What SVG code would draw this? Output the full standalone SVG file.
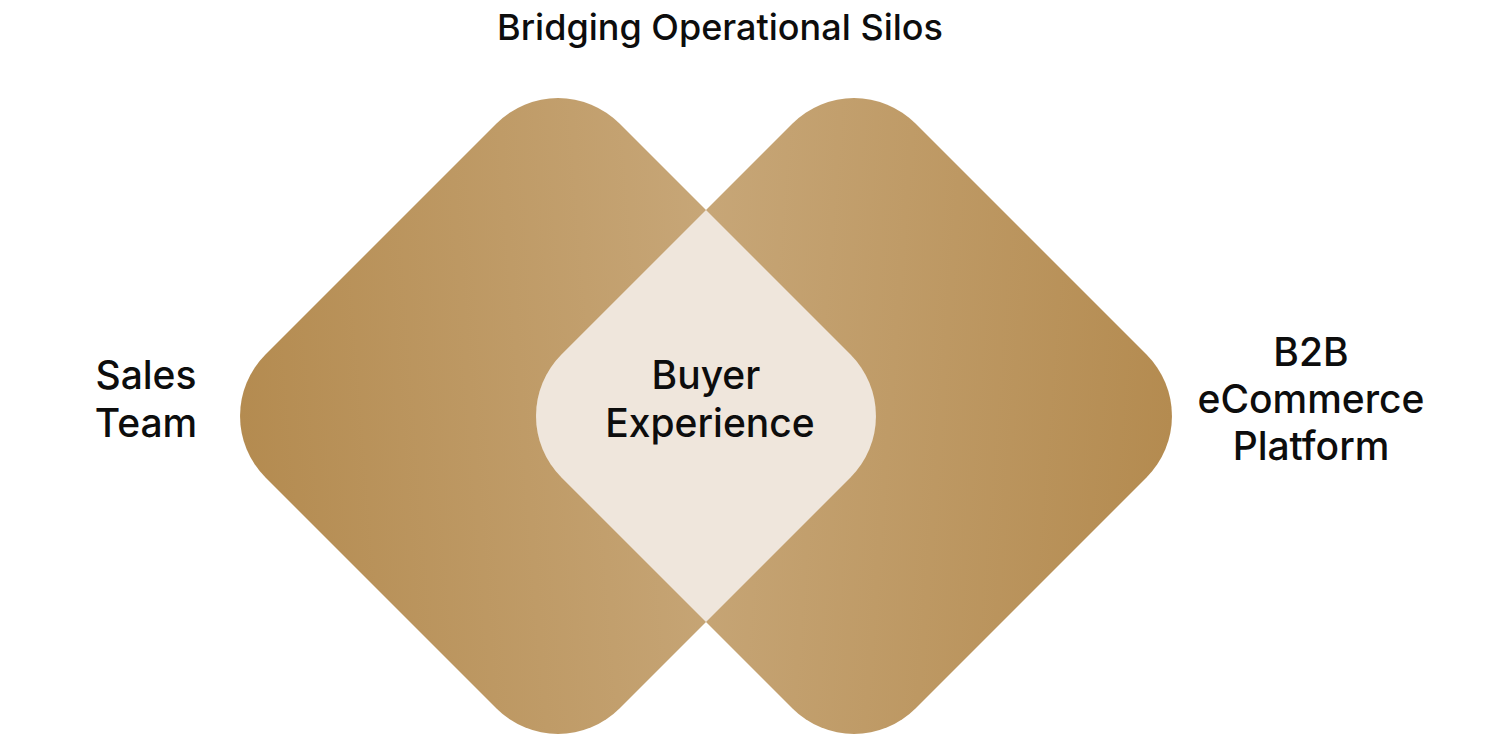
<svg xmlns="http://www.w3.org/2000/svg" width="1500" height="742" viewBox="0 0 1500 742">
<style>
.t{font-family:Inter,"Open Sans","Liberation Sans",sans-serif;fill:#0d0d0d;text-anchor:middle;font-weight:500}
.title{font-size:36px}
.lbl{font-size:39px}
</style>
<defs>
<linearGradient id="gl" gradientUnits="userSpaceOnUse" x1="242" y1="440" x2="876" y2="390">
<stop offset="0" stop-color="#b48b50"/>
<stop offset="1" stop-color="#cdaf84"/>
</linearGradient>
<linearGradient id="gr" gradientUnits="userSpaceOnUse" x1="536" y1="390" x2="1170" y2="440">
<stop offset="0" stop-color="#cdaf84"/>
<stop offset="1" stop-color="#b48b50"/>
</linearGradient>
<path id="dl" d="M619.5 123.5 L850.5 354.5 A87 87 0 0 1 850.5 477.5 L619.5 708.5 A87 87 0 0 1 496.5 708.5 L265.5 477.5 A87 87 0 0 1 265.5 354.5 L496.5 123.5 A87 87 0 0 1 619.5 123.5 Z"/>
<path id="dr" d="M915.5 123.5 L1146.5 354.5 A87 87 0 0 1 1146.5 477.5 L915.5 708.5 A87 87 0 0 1 792.5 708.5 L561.5 477.5 A87 87 0 0 1 561.5 354.5 L792.5 123.5 A87 87 0 0 1 915.5 123.5 Z"/>
<clipPath id="clipL"><use href="#dl"/></clipPath>
</defs>
<text class="t title" x="720" y="40">Bridging Operational Silos</text>
<g id="sales">
<use href="#dl" fill="url(#gl)"/>
<text class="t lbl" x="146" y="389">Sales</text>
<text class="t lbl" x="146" y="437">Team</text>
</g>
<g id="platform">
<use href="#dr" fill="url(#gr)"/>
<text class="t lbl" x="1311" y="366">B2B</text>
<text class="t lbl" x="1311" y="413">eCommerce</text>
<text class="t lbl" x="1311" y="460">Platform</text>
</g>
<g id="buyer">
<use href="#dr" fill="#efe6dc" clip-path="url(#clipL)"/>
<text class="t lbl" x="706" y="389">Buyer</text>
<text class="t lbl" x="710" y="437">Experience</text>
</g>
<g id="connectors"></g>
</svg>
